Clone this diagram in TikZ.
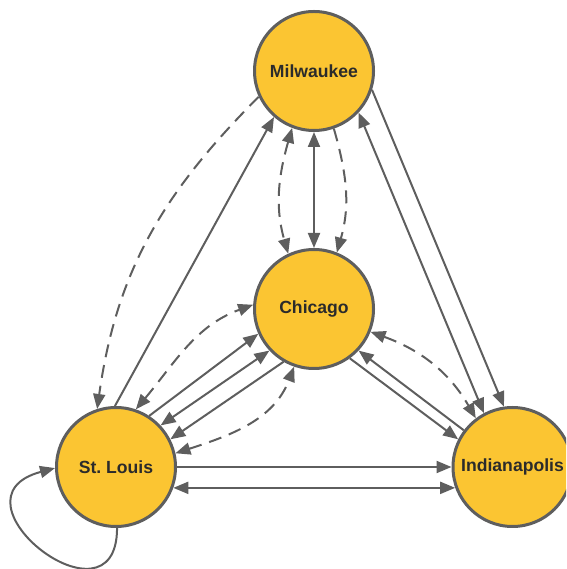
\documentclass[tikz,border=0pt]{standalone}
\usepackage{fontspec}
\setmainfont{Liberation Sans}
\usetikzlibrary{arrows.meta}
\definecolor{cityfill}{HTML}{FBC532}
\definecolor{edgegray}{HTML}{5E5E5E}
\definecolor{labelink}{HTML}{2B2B2B}
\tikzset{
  city/.style={circle, draw=edgegray, line width=3pt, fill=cityfill,
    minimum size=119pt, inner sep=0pt, text=labelink,
    font=\fontsize{17.6}{20}\selectfont\bfseries},
  route/.style={draw=edgegray, line width=2pt},
  dashroute/.style={route, dash pattern=on 13pt off 8pt},
  >={Triangle[length=15pt,width=12pt]},
}
\begin{document}
\begin{tikzpicture}[x=1pt,y=1pt]
  \clip (0,0) rectangle (566,569);

  % cities
  \node[city] (mil) at (314,498) {Milwaukee};
  \node[city] (chi) at (314,260) {Chicago};
  \node[city] (stl) at (116,102) {St.\ Louis};
  \node[city] (ind) at (512.5,102) {Indianapolis};

  % Milwaukee -- Chicago
  \draw[route,<->] (mil.-90) -- (chi.90);
  \draw[dashroute,<->] (mil.-111) to[out=-106,in=106] (chi.115);
  \draw[dashroute,->] (mil.-71.5) to[out=-74,in=74] (chi.68);

  % Milwaukee -- Indianapolis
  \draw[route,->] (mil.-18) -- (ind.98);
  \draw[route,<->] (mil.-43.7) -- (ind.118);

  % Chicago -- Indianapolis
  \draw[dashroute,<->] (chi.-22) to[out=-20,in=120] (ind.127);
  \draw[route,->] (chi.-54) -- (ind.153);
  \draw[route,->] (ind.143) -- (chi.-43);

  % St. Louis -- Milwaukee
  \draw[route,->] (stl.91) -- (mil.-131.8);
  \draw[dashroute,->] (mil.-155.8) to[out=225,in=82] (stl.108);

  % St. Louis -- Chicago
  \draw[dashroute,<->] (stl.71) to[out=50,in=200] (chi.176);
  \draw[route,->] (stl.57) -- (chi.204);
  \draw[route,<->] (stl.43) -- (chi.223);
  \draw[route,->] (chi.240) -- (stl.27);
  \draw[dashroute,<->] (stl.13) to[out=18,in=249] (chi.251);

  % St. Louis -- Indianapolis
  \draw[route,->] (stl) -- (ind);
  \draw[route,<->] (stl.-20.8) -- (ind.200.8);

  % St. Louis self loop
  \draw[route,->] (stl.-89) to[out=-90,in=195,out distance=108pt,in distance=118pt] (stl.181);
\end{tikzpicture}
\end{document}
